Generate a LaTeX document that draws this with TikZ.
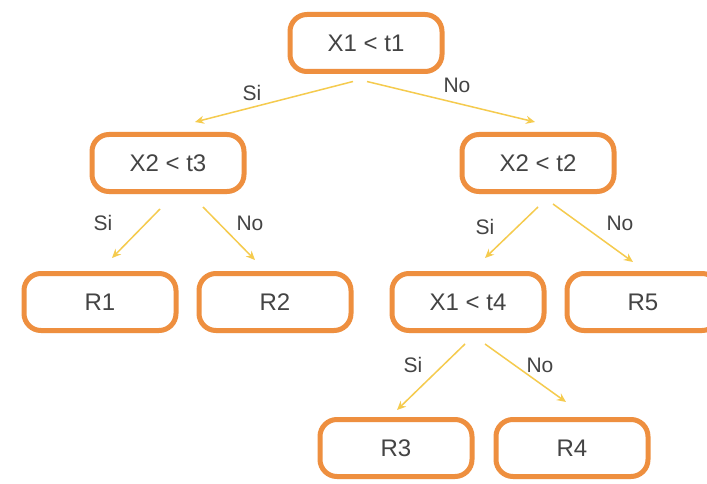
\documentclass[tikz,border=0pt]{standalone}
\usepackage{fontspec}
\setmainfont{Liberation Sans}
\usetikzlibrary{arrows.meta,calc,shadows}
\definecolor{boxorange}{HTML}{EE8F3F}
\definecolor{arrowyellow}{HTML}{F5CB4E}
\definecolor{textgray}{HTML}{444444}
\tikzset{
  treebox/.style={draw=boxorange, line width=5pt, rounded corners=17pt,
    minimum width=152pt, minimum height=57pt, fill=white, text=textgray,
    font=\fontsize{24}{28}\selectfont,
    drop shadow={opacity=0.12, shadow xshift=0pt, shadow yshift=-2.5pt}},
  arr/.style={draw=arrowyellow, line width=1.5pt, -{Stealth[length=9pt,width=8pt]}},
  lbl/.style={text=textgray, font=\fontsize{21}{24}\selectfont}
}
\begin{document}
\begin{tikzpicture}[x=1pt,y=-1pt]
\useasboundingbox (0,0) rectangle (707,484);
\clip (0,0) rectangle (707,484);
\fill[white] (0,0) rectangle (707,484);

\node[treebox] (root) at (366,43) {X1 < t1};
\node[treebox] (n1) at (168,163) {X2 < t3};
\node[treebox] (n2) at (538,163) {X2 < t2};
\node[treebox] (r1) at (100,302) {R1};
\node[treebox] (r2) at (275,302) {R2};
\node[treebox] (n3) at (468,302) {X1 < t4};
\node[treebox] (r5) at (643,302) {R5};
\node[treebox] (r3) at (396,448) {R3};
\node[treebox] (r4) at (572,448) {R4};

% arrow end points
\coordinate (e1) at (195,122);
\coordinate (e2) at (535,122);
\coordinate (e3) at (112,258);
\coordinate (e4) at (255,260);
\coordinate (e5) at (485,258);
\coordinate (e6) at (633,262);
\coordinate (e7) at (397,410);
\coordinate (e8) at (566,402);

\draw[arr] ($(root.south)+(-13,7.5)$) -- (e1);
\draw[arr] ($(root.south)+(1,7.5)$) -- (e2);
\draw[arr] ($(n1.south)+(-8,15)$) -- (e3);
\draw[arr] ($(n1.south)+(35,13)$) -- (e4);
\draw[arr] ($(n2.south)+(0,13)$) -- (e5);
\draw[arr] ($(n2.south)+(15,10)$) -- (e6);
\draw[arr] ($(n3.south)+(-3,11)$) -- (e7);
\draw[arr] ($(n3.south)+(17,11)$) -- (e8);

\node[lbl] (s1) at (252,93) {Si};
\node[lbl] (o1) at (457,85) {No};
\node[lbl] (s2) at (103,223) {Si};
\node[lbl] (o2) at (250,223) {No};
\node[lbl] (s3) at (485,227) {Si};
\node[lbl] (o3) at (620,223) {No};
\node[lbl] (s4) at (413,365) {Si};
\node[lbl] (o4) at (540,365) {No};
\end{tikzpicture}
\end{document}
